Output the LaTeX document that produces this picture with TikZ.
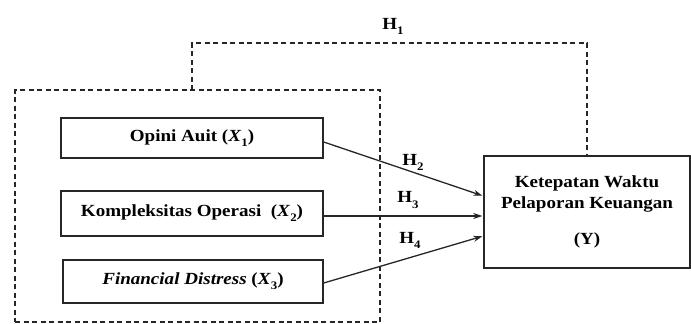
\documentclass[tikz,border=0pt]{standalone}
\usepackage{fontspec}
\setmainfont{Liberation Serif}[FakeStretch=1.12]
\usetikzlibrary{arrows.meta,calc}
\newcommand{\mysub}[1]{\raisebox{-0.3em}{\fontsize{11.5}{13}\selectfont #1}}
\begin{document}
\begin{tikzpicture}[x=1pt,y=-1pt,
  txt/.style={font=\fontsize{17}{20.5}\selectfont\bfseries},
  box/.style={txt, draw=black!85, line width=1.4pt, rectangle, inner sep=0pt},
  dashline/.style={draw=black!85, line width=1.2pt, dash pattern=on 5pt off 3.5pt},
  arr/.style={draw=black!85, line width=1.3pt, -{Stealth[length=9pt,width=6pt]}, shorten >=1pt},
  hlab/.style={txt, inner sep=0pt}]
\useasboundingbox (0,0) rectangle (691,324);
% outer dashed group
\node[dashline, rectangle, minimum width=365pt, minimum height=232pt, inner sep=0pt] (grp) at (197.5,206) {};
% independent variables
\node[box, minimum width=262pt, minimum height=40pt] (b1) at (192,138) {Opini Auit (\textit{X}\mysub{1})};
\node[box, minimum width=262pt, minimum height=45pt] (b2) at (192,213.5) {Kompleksitas Operasi\ \ (\textit{X}\mysub{2})};
\node[box, minimum width=260pt, minimum height=43pt] (b3) at (193,281.5) {\textit{Financial Distress} (\textit{X}\mysub{3})};
% dependent variable
\node[box, minimum width=206pt, minimum height=112pt, align=center] (Y) at (587,212)
  {Ketepatan Waktu\\Pelaporan Keuangan\\[16pt](Y)};
% H1 path
\coordinate (h1a) at (192,90);
\draw[dashline] (h1a) -- ++(0,-47) -| (Y.north);
\node[hlab] (H1) at (393,26) {H\mysub{1}};
% arrows
\draw[arr] ($(b1.east)+(0,4)$) -- ($(Y.west)+(0,-16)$);
\draw[arr] ($(b2.east)+(0,2.5)$) -- ($(Y.west)+(0,4)$);
\draw[arr] ($(b3.east)+(0,1.5)$) -- ($(Y.west)+(0,24)$);
\node[hlab] (H2) at (413,162) {H\mysub{2}};
\node[hlab] (H3) at (408,200) {H\mysub{3}};
\node[hlab] (H4) at (410,240) {H\mysub{4}};
\end{tikzpicture}
\end{document}
